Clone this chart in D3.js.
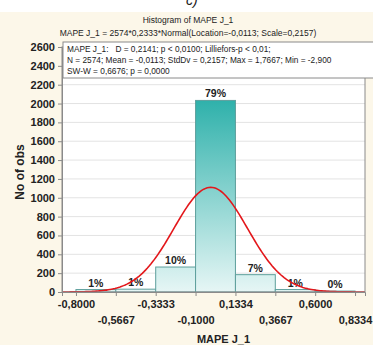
<!DOCTYPE html>
<html>
<head>
<meta charset="utf-8">
<script src="https://cdn.jsdelivr.net/npm/d3@7"></script>
<style>
  body { margin: 0; background: #ffffff; }
  text { font-family: "Liberation Sans", Arial, sans-serif; }
</style>
</head>
<body>
<div id="chart"></div>
<script>
// Histogram bins (edges) and counts
const binEdges = [-0.8, -0.5667, -0.3333, -0.1, 0.1334, 0.3667, 0.6, 0.8334];
const counts = [26, 30, 265, 2033, 184, 26, 10];
const pctLabels = ["1%", "1%", "10%", "79%", "7%", "1%", "0%"];
const yTicks = d3.range(0, 2601, 200);
const xTicks = binEdges;

// Fitted normal from the title: N * binWidth * Normal(loc, scale)
const fitN = 2574, fitBin = 0.2333, fitLoc = -0.0113, fitScale = 0.2157;

const statLines = [
  "MAPE J_1:   D = 0,2141; p < 0,0100; Lilliefors-p < 0,01;",
  "N = 2574; Mean = -0,0113; StdDv = 0,2157; Max = 1,7667; Min = -2,900",
  "SW-W = 0,6676; p = 0,0000"
];

const W = 373, H = 345;
const plot = { left: 62, right: 365, top: 47, bottom: 292 };

const svg = d3.select("#chart").append("svg")
  .attr("width", W)
  .attr("height", H);

// cream page background
svg.append("rect").attr("x", 0).attr("y", 12).attr("width", W).attr("height", H - 12)
  .attr("fill", "#fcf7e9");

// cut-off panel letter at the very top
svg.append("text").attr("x", 186).attr("y", 5)
  .attr("font-size", 14).attr("font-style", "italic").attr("fill", "#222")
  .text("c)");

const x = d3.scaleLinear().domain([-0.8817, 0.8917]).range([plot.left, plot.right]);
const y = d3.scaleLinear().domain([0, 2600]).range([plot.bottom, plot.top]);

const fmt = v => d3.format(".4f")(v).replace(".", ",").replace("−", "-");

// plot area
svg.append("rect")
  .attr("x", plot.left).attr("y", plot.top)
  .attr("width", plot.right - plot.left).attr("height", plot.bottom - plot.top)
  .attr("fill", "#ffffff");

// horizontal grid
svg.append("g").selectAll("line")
  .data(yTicks.slice(1))
  .join("line")
  .attr("x1", plot.left).attr("x2", plot.right)
  .attr("y1", d => y(d)).attr("y2", d => y(d))
  .attr("stroke", "#e3e3e3").attr("stroke-width", 1);

// gradient for bars
const defs = svg.append("defs");
const grad = defs.append("linearGradient")
  .attr("id", "barGrad")
  .attr("gradientUnits", "userSpaceOnUse")
  .attr("x1", 0).attr("x2", 0)
  .attr("y1", y(2033)).attr("y2", y(0));
grad.append("stop").attr("offset", "0%").attr("stop-color", "#2fb1ab");
grad.append("stop").attr("offset", "100%").attr("stop-color", "#e6f6f5");

// bars
const bins = counts.map((c, i) => ({ x0: binEdges[i], x1: binEdges[i + 1], count: c, label: pctLabels[i] }));

svg.append("g").selectAll("rect")
  .data(bins)
  .join("rect")
  .attr("x", d => x(d.x0))
  .attr("y", d => y(d.count))
  .attr("width", d => x(d.x1) - x(d.x0))
  .attr("height", d => y(0) - y(d.count))
  .attr("fill", "url(#barGrad)")
  .attr("stroke", "#5e9f9c")
  .attr("stroke-width", 1);

// percent labels
svg.append("g").selectAll("text")
  .data(bins)
  .join("text")
  .attr("x", d => x((d.x0 + d.x1) / 2))
  .attr("y", d => y(d.count) - 3)
  .attr("text-anchor", "middle")
  .attr("font-size", 10.5)
  .attr("font-weight", "bold")
  .attr("fill", "#222")
  .text(d => d.label);

// fitted normal curve
const normal = v => fitN * fitBin * Math.exp(-0.5 * ((v - fitLoc) / fitScale) ** 2) / (fitScale * Math.sqrt(2 * Math.PI));
const curveX = d3.range(x.domain()[0], x.domain()[1], 0.01).concat([x.domain()[1]]);
svg.append("path")
  .datum(curveX)
  .attr("fill", "none")
  .attr("stroke", "#e3171b")
  .attr("stroke-width", 1.6)
  .attr("d", d3.line().x(d => x(d)).y(d => y(normal(d))));

// plot border
svg.append("rect")
  .attr("x", plot.left).attr("y", plot.top)
  .attr("width", plot.right - plot.left).attr("height", plot.bottom - plot.top)
  .attr("fill", "none").attr("stroke", "#8a8a8a").attr("stroke-width", 1);

// y axis
const yAxis = svg.append("g")
  .attr("transform", `translate(${plot.left},0)`)
  .call(d3.axisLeft(y).tickValues(yTicks).tickSize(4).tickPadding(3).tickFormat(d3.format("d")));
yAxis.select(".domain").attr("stroke", "#8a8a8a");
yAxis.selectAll(".tick line").attr("stroke", "#8a8a8a");
yAxis.selectAll("text")
  .attr("font-size", 11).attr("font-weight", "bold").attr("fill", "#222")
  .style("font-family", "'Liberation Sans', Arial, sans-serif");

// x axis (labels staggered on two rows)
const xAxis = svg.append("g")
  .attr("transform", `translate(0,${plot.bottom})`)
  .call(d3.axisBottom(x).tickValues(xTicks).tickSize(4).tickFormat(fmt));
xAxis.select(".domain").attr("stroke", "#8a8a8a");
xAxis.selectAll(".tick line").attr("stroke", "#8a8a8a");
xAxis.selectAll("text")
  .attr("y", (d, i) => i % 2 === 0 ? 8 : 24)
  .attr("font-size", 11).attr("font-weight", "bold").attr("fill", "#222")
  .style("font-family", "'Liberation Sans', Arial, sans-serif");

// axis titles
svg.append("text")
  .attr("x", (plot.left + plot.right) / 2 + 10).attr("y", 343)
  .attr("text-anchor", "middle")
  .attr("font-size", 11).attr("font-weight", "bold").attr("fill", "#222")
  .text("MAPE J_1");

svg.append("text")
  .attr("transform", `translate(24,172) rotate(-90)`)
  .attr("text-anchor", "middle")
  .attr("font-size", 12).attr("font-weight", "bold").attr("fill", "#222")
  .text("No of obs");

// titles
svg.append("text")
  .attr("x", 188).attr("y", 23)
  .attr("text-anchor", "middle").attr("font-size", 8.5).attr("fill", "#222")
  .text("Histogram of MAPE J_1");
svg.append("text")
  .attr("x", 188).attr("y", 36)
  .attr("text-anchor", "middle").attr("font-size", 8.5).attr("fill", "#222")
  .text("MAPE J_1 = 2574*0,2333*Normal(Location=-0,0113; Scale=0,2157)");

// stats box
const box = svg.append("g");
box.append("rect")
  .attr("x", 63).attr("y", 42).attr("width", 312).attr("height", 36)
  .attr("fill", "#ffffff").attr("stroke", "#8a8a8a").attr("stroke-width", 1);
box.selectAll("text")
  .data(statLines)
  .join("text")
  .attr("x", 67)
  .attr("y", (d, i) => 52 + i * 11)
  .attr("font-size", 8.3)
  .attr("fill", "#222")
  .style("white-space", "pre")
  .text(d => d);
</script>
</body>
</html>
